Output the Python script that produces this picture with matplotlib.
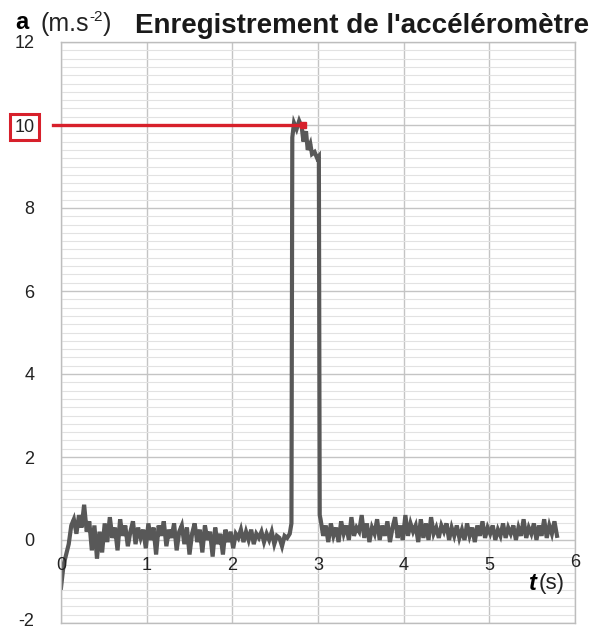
import numpy as np
import matplotlib
matplotlib.use("Agg")
import matplotlib.pyplot as plt
from matplotlib.ticker import MultipleLocator
from matplotlib.transforms import offset_copy

plt.rcParams['font.family'] = ['Liberation Sans', 'DejaVu Sans']
plt.rcParams['axes.unicode_minus'] = False

#%% data
dt = 0.03
# before the fall: t = 0 .. 2.67 s
acc_before = [-1.15, -0.60, -0.35, -0.10, 0.35, 0.50, 0.15, 0.60, 0.30, 0.85,
              0.20, 0.45, -0.25, 0.35, -0.45, 0.20, -0.30, 0.40, -0.05, 0.55,
              0.05, 0.30, -0.25, 0.50, 0.10, 0.35, -0.15, 0.20, 0.45, -0.10,
              0.30, 0.05, 0.25, -0.20, 0.40, 0.00, 0.30, -0.35, 0.35, 0.10,
              0.45, -0.15, 0.25, 0.05, 0.40, -0.25, 0.20, 0.35, -0.10, 0.30,
              -0.35, 0.15, 0.40, -0.05, 0.25, -0.30, 0.35, 0.00, 0.20, -0.40,
              0.30, -0.10, 0.15, -0.35, 0.25, -0.05, 0.20, -0.20, 0.15, 0.05,
              0.25, -0.05, 0.20, 0.00, 0.25, -0.10, 0.15, 0.05, 0.20, -0.05,
              0.15, 0.00, 0.20, -0.10, 0.10, 0.05, -0.15, 0.10, 0.05, 0.15]
t_before_start = 0.0
# free fall
t_fall = [2.69, 2.70, 2.72, 2.75, 2.78, 2.81, 2.83, 2.86, 2.88, 2.91, 2.93, 2.96, 2.99, 3.01, 3.02]
acc_fall = [0.4, 9.7, 10.05, 9.9, 10.1, 9.95, 9.6, 9.85, 9.4, 9.55, 9.3, 9.35, 9.2, 9.25, 0.6]
# after the fall: t = 3.03 .. 5.79 s
acc_after = [0.50, 0.10, 0.35, -0.05, 0.40, 0.10, 0.30, -0.05, 0.45, 0.15,
             0.35, 0.00, 0.55, 0.10, 0.30, 0.20, 0.60, 0.05, 0.40, -0.05,
             0.30, 0.15, 0.50, 0.00, 0.35, 0.10, 0.45, -0.05, 0.30, 0.55,
             0.05, 0.35, 0.00, 0.60, 0.10, 0.40, 0.20, 0.35, -0.05, 0.50,
             0.05, 0.40, 0.00, 0.55, 0.15, 0.30, 0.05, 0.35, 0.20, 0.40,
             0.00, 0.30, 0.10, 0.35, 0.05, 0.25, 0.00, 0.40, 0.10, 0.30,
             -0.05, 0.35, 0.10, 0.45, 0.05, 0.30, 0.15, 0.35, 0.00, 0.25,
             0.10, 0.40, 0.05, 0.30, 0.15, 0.35, 0.00, 0.30, 0.10, 0.50,
             0.05, 0.30, 0.15, 0.40, 0.00, 0.35, 0.10, 0.50, 0.05, 0.35,
             0.15, 0.45, 0.10]
t_after_start = 3.03
g_value = 10
g_end = 2.82
x_ticks = [0, 1, 2, 3, 4, 5, 6]
y_ticks = [-2, 0, 2, 4, 6, 8, 10, 12]

t = np.concatenate([t_before_start + dt*np.arange(len(acc_before)),
                    t_fall,
                    t_after_start + dt*np.arange(len(acc_after))])
a = np.concatenate([acc_before, acc_fall, acc_after])

#%% figure
fig = plt.figure(figsize=(6.01, 6.29), dpi=100)
ax = fig.add_axes([61/601, 1-623/629, (575-61)/601, (623-42)/629])
ax.set_xlim(0, 6)
ax.set_ylim(-2, 12)

# grid
ax.yaxis.set_minor_locator(MultipleLocator(0.2))
ax.set_yticks(y_ticks)
ax.set_xticks(x_ticks)
ax.grid(which='minor', axis='y', color='#e2e2e2', lw=0.8)
ax.grid(which='major', axis='y', color='#c4c4c4', lw=1.0)
ax.grid(which='major', axis='x', color='#c4c4c4', lw=1.0)
ax.tick_params(which='both', length=0, labelbottom=False, labelsize=13, colors='#222222', pad=19)
for s in ax.spines.values():
    s.set_color('#bdbdbd')
    s.set_linewidth(1.0)
ax.set_axisbelow(True)

# x labels sit just under the zero line
for x in x_ticks:
    dy = 0.07 if x == 6 else 0
    ax.text(x, -0.62 + dy, str(x), ha='center', va='center', fontsize=13, color='#222222')
ax.text(5.56, -1.05, 't', fontsize=17, fontweight='bold', fontstyle='italic', ha='right', va='center')
ax.text(5.58, -1.05, '(s)', fontsize=16, ha='left', va='center', color='#222222')

# signal
ax.plot(t, a, color='#585858', lw=3.0, solid_joinstyle='miter')

# g reading
ax.plot([-0.09, g_end], [g_value, g_value], color='#d7202b', lw=2.4, clip_on=False, zorder=5)
ax.plot([g_end], [g_value], 's', color='#d7202b', ms=5, zorder=6)
for lab in ax.get_yticklabels():
    if lab.get_text() == '10':
        lab.set_bbox(dict(facecolor='white', edgecolor='#d7202b', lw=2.2, pad=3))
    if lab.get_text() == '-2':
        lab.set_transform(offset_copy(lab.get_transform(), fig=fig, y=4, units='dots'))

# titles
fig.text(15/601, 1-29/629, 'a', fontsize=17, fontweight='bold', va='baseline')
fig.text(41/601, 1-31/629, '(m.s', fontsize=18, va='baseline', color='#222222')
fig.text(89/601, 1-21/629, '-2', fontsize=11, va='baseline', color='#222222')
fig.text(103/601, 1-31/629, ')', fontsize=18, va='baseline', color='#222222')
fig.text(135/601, 1-33/629, "Enregistrement de l'accéléromètre", fontsize=20,
         fontweight='bold', va='baseline', color='#1a1a1a')

fig.savefig('out.png', dpi=100)
